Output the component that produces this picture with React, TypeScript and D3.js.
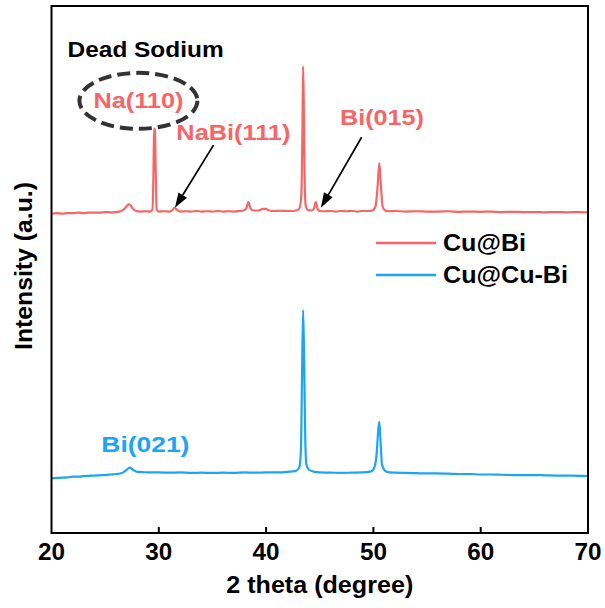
import React from "react";
import * as d3 from "d3";

// 2θ (degree), intensity (a.u.) — Cu@Bi (dead sodium sample)
const cuBiTheta = [20.0, 20.5, 21.0, 21.5, 22.0, 22.5, 23.0, 23.5, 24.0, 24.5, 25.0, 25.5, 26.0, 26.5, 26.8, 27.0, 27.2, 27.4, 27.6, 27.9, 28.3, 28.8, 29.2, 29.4, 29.5, 29.56, 29.64, 29.72, 29.8, 30.0, 30.5, 31.0, 31.25, 31.45, 31.7, 32.0, 32.5, 33.0, 33.5, 34.0, 34.5, 35.0, 35.5, 36.0, 36.5, 37.0, 37.5, 37.9, 38.15, 38.35, 38.55, 38.8, 39.3, 39.7, 39.95, 40.3, 40.8, 41.3, 41.8, 42.3, 42.8, 43.1, 43.28, 43.38, 43.45, 43.52, 43.6, 43.7, 43.9, 44.2, 44.45, 44.62, 44.8, 45.0, 45.5, 46.0, 46.5, 47.0, 47.5, 48.0, 48.5, 49.0, 49.5, 49.9, 50.2, 50.4, 50.55, 50.7, 50.85, 51.1, 51.5, 52.0, 53.0, 54.0, 55.0, 56.0, 57.0, 58.0, 59.0, 60.0, 61.0, 62.0, 63.0, 64.0, 65.0, 66.0, 67.0, 68.0, 69.0, 70.0];
const cuBiIntensity = [60.6, 60.7, 60.6, 60.7, 60.7, 60.8, 60.7, 60.8, 60.8, 60.8, 60.9, 60.85, 60.9, 61.1, 61.5, 62.0, 62.4, 62.1, 61.5, 61.1, 61.0, 61.05, 61.0, 61.3, 68.0, 76.8, 76.4, 68.0, 61.4, 61.0, 61.05, 61.0, 61.2, 61.7, 61.3, 61.0, 61.05, 61.0, 61.1, 61.0, 61.05, 61.0, 61.1, 61.0, 61.05, 61.0, 61.1, 61.2, 61.6, 62.8, 61.6, 61.2, 61.2, 61.5, 61.5, 61.2, 61.1, 61.15, 61.1, 61.1, 61.2, 61.6, 64.0, 75.0, 88.6, 80.0, 66.0, 62.0, 61.3, 61.2, 61.5, 62.8, 61.5, 61.1, 61.05, 61.1, 61.0, 61.1, 61.05, 61.1, 61.0, 61.1, 61.1, 61.2, 62.0, 66.0, 70.2, 66.0, 62.0, 61.2, 61.05, 61.1, 61.0, 61.05, 61.0, 61.0, 61.05, 60.95, 61.0, 60.95, 61.0, 60.9, 60.95, 60.9, 60.9, 60.85, 60.9, 60.85, 60.9, 60.85];

// Cu@Cu-Bi
const cuCuBiTheta = [20.0, 20.5, 21.0, 21.5, 22.0, 22.5, 23.0, 23.5, 24.0, 24.5, 25.0, 25.5, 26.0, 26.4, 26.7, 27.0, 27.3, 27.6, 28.0, 28.5, 29.0, 29.5, 30.0, 31.0, 32.0, 33.0, 34.0, 35.0, 36.0, 37.0, 38.0, 39.0, 40.0, 41.0, 42.0, 42.8, 43.1, 43.25, 43.35, 43.45, 43.55, 43.65, 43.75, 44.0, 44.5, 45.0, 46.0, 47.0, 48.0, 49.0, 49.8, 50.1, 50.3, 50.45, 50.55, 50.65, 50.8, 51.1, 51.5, 52.0, 53.0, 54.0, 55.0, 56.0, 57.0, 58.0, 59.0, 60.0, 61.0, 62.0, 63.0, 64.0, 65.0, 66.0, 67.0, 68.0, 69.0, 70.0];
const cuCuBiIntensity = [10.4, 10.45, 10.5, 10.55, 10.7, 10.7, 10.8, 10.85, 10.9, 10.95, 11.0, 11.1, 11.2, 11.3, 11.5, 12.0, 12.4, 12.0, 11.6, 11.55, 11.5, 11.5, 11.5, 11.45, 11.5, 11.4, 11.45, 11.4, 11.45, 11.4, 11.5, 11.45, 11.5, 11.5, 11.6, 11.8, 12.5, 16.0, 30.0, 42.3, 32.0, 18.0, 13.0, 12.0, 11.6, 11.5, 11.45, 11.4, 11.45, 11.5, 11.7, 12.5, 15.0, 19.5, 21.1, 18.0, 13.0, 11.8, 11.5, 11.45, 11.4, 11.35, 11.3, 11.3, 11.25, 11.2, 11.2, 11.1, 11.1, 11.05, 11.0, 11.0, 11.0, 10.95, 10.9, 10.9, 10.85, 10.8];

const xTicks = [20, 30, 40, 50, 60, 70];
const seriesNames = ["Cu@Bi", "Cu@Cu-Bi"];
const seriesColors = ["#F86566", "#1BA5F5"];

const W = 605;
const H = 608;
const left = 51.5;
const right = 588;
const top = 6;
const bottom = 533;

const FONT = "'Liberation Sans', Arial, sans-serif";

function Arrow({ x1, y1, x2, y2 }: { x1: number; y1: number; x2: number; y2: number }) {
  const ang = Math.atan2(y2 - y1, x2 - x1);
  const len = 15;
  const hw = 5;
  const bx = x2 - len * Math.cos(ang);
  const by = y2 - len * Math.sin(ang);
  const px = -Math.sin(ang);
  const py = Math.cos(ang);
  const pts = `${x2},${y2} ${bx + hw * px},${by + hw * py} ${bx - hw * px},${by - hw * py}`;
  return (
    <g>
      <line x1={x1} y1={y1} x2={bx} y2={by} stroke="#000" strokeWidth={1.7} />
      <polygon points={pts} fill="#000" />
    </g>
  );
}

export default function App() {
  const x = d3.scaleLinear().domain([20, 70]).range([left, right]);
  const y = d3.scaleLinear().domain([0, 100]).range([bottom, bottom - 527]);

  const line = d3
    .line<[number, number]>()
    .x((d) => x(d[0]))
    .y((d) => y(d[1]))
    .curve(d3.curveMonotoneX);

  const redData = cuBiTheta.map((t, i) => [t, cuBiIntensity[i]] as [number, number]);
  const blueData = cuCuBiTheta.map((t, i) => [t, cuCuBiIntensity[i]] as [number, number]);

  const red = seriesColors[0];
  const blue = seriesColors[1];

  return (
    <svg
      width={W}
      height={H}
      style={{ position: "absolute", left: 0, top: 0, background: "#fff" }}
      fontFamily={FONT}
      fontWeight="bold"
    >
      <rect x={0} y={0} width={W} height={H} fill="#fff" />
      <path d={line(redData) || ""} fill="none" stroke={red} strokeWidth={2.2} strokeLinejoin="round" />
      <path d={line(blueData) || ""} fill="none" stroke={blue} strokeWidth={2.2} strokeLinejoin="round" />

      {/* frame */}
      <rect x={left} y={top} width={right - left} height={bottom - top} fill="none" stroke="#000" strokeWidth={2} />

      {/* x ticks */}
      {xTicks.map((t) => (
        <g key={t}>
          {t !== 20 && t !== 70 && (
            <line x1={x(t)} x2={x(t)} y1={bottom} y2={bottom - 6} stroke="#000" strokeWidth={2} />
          )}
          <text x={x(t)} y={560} textAnchor="middle" fontSize={24} fill="#000" textLength={27} lengthAdjust="spacingAndGlyphs">
            {t}
          </text>
        </g>
      ))}

      <text x={(left + right) / 2} y={593} textAnchor="middle" fontSize={23} fill="#000" textLength={187} lengthAdjust="spacingAndGlyphs">
        2 theta (degree)
      </text>
      <text
        transform={`translate(32,266) rotate(-90)`}
        textAnchor="middle"
        fontSize={23}
        fill="#000"
        textLength={168}
        lengthAdjust="spacingAndGlyphs"
      >
        Intensity (a.u.)
      </text>

      {/* annotations */}
      <text x={x(21.5)} y={y(90.3)} fontSize={22} fill="#000" textLength={156} lengthAdjust="spacingAndGlyphs">
        Dead Sodium
      </text>
      <ellipse cx={x(28.1)} cy={y(82.0)} rx={59} ry={28} fill="none" stroke="#333" strokeWidth={4} strokeDasharray="13 6" />
      <text x={x(28.1)} y={y(80.6)} textAnchor="middle" fontSize={22} fill={red} textLength={90} lengthAdjust="spacingAndGlyphs">
        Na(110)
      </text>
      <text x={x(36.95)} y={y(74.6)} textAnchor="middle" fontSize={22} fill={red} textLength={114} lengthAdjust="spacingAndGlyphs">
        NaBi(111)
      </text>
      <Arrow x1={x(35.1)} y1={y(73.6)} x2={x(31.5)} y2={y(61.7)} />
      <text x={x(50.8)} y={y(77.4)} textAnchor="middle" fontSize={22} fill={red} textLength={84} lengthAdjust="spacingAndGlyphs">
        Bi(015)
      </text>
      <Arrow x1={x(48.9)} y1={y(75.1)} x2={x(45.1)} y2={y(61.7)} />
      <text x={x(28.75)} y={y(15.4)} textAnchor="middle" fontSize={22} fill={blue} textLength={88} lengthAdjust="spacingAndGlyphs">
        Bi(021)
      </text>

      {/* legend */}
      {seriesNames.map((name, i) => (
        <g key={name}>
          <line x1={376} x2={436} y1={243 + i * 32} y2={243 + i * 32} stroke={seriesColors[i]} strokeWidth={2.5} />
          <text x={443} y={251 + i * 32} fontSize={23} fill="#000" textLength={i === 0 ? 83 : 125} lengthAdjust="spacingAndGlyphs">
            {name}
          </text>
        </g>
      ))}
    </svg>
  );
}
